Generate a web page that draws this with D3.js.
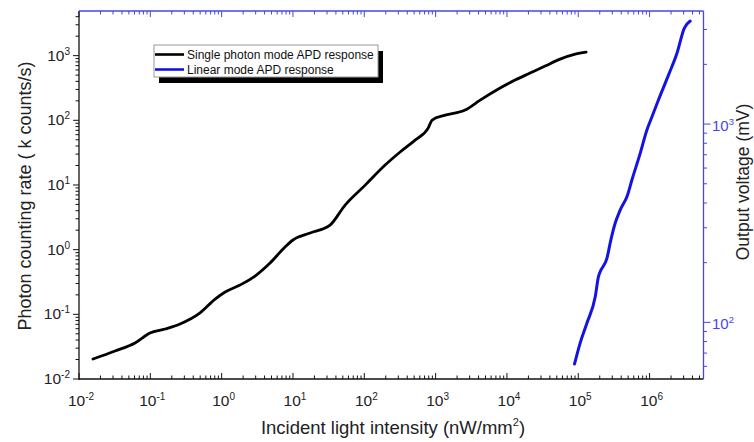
<!DOCTYPE html>
<html><head><meta charset="utf-8">
<script src="https://cdn.jsdelivr.net/npm/d3@7/dist/d3.min.js"></script>
<style>body{margin:0;background:#fff} text{font-family:"Liberation Sans",Arial,sans-serif}</style>
</head><body><svg id="c" width="754" height="442"></svg>
<script>
// Single photon mode APD response (intensity nW/mm^2 -> k counts/s)
const spIntensity = [0.0157,0.032,0.061,0.099,0.161,0.261,0.498,0.81,1.12,1.81,2.94,4.77,7.74,10.0,17.4,33.1,53.8,103,196,318,516,786,894,1360,2590,4210,8030,13000,21100,34300,55700,90600,129000];
const spRate = [0.0204,0.0271,0.036,0.0514,0.0593,0.0708,0.105,0.172,0.221,0.284,0.391,0.621,1.10,1.41,1.81,2.40,4.89,9.95,20.3,32.3,49.4,75.7,101,120,144,205,315,419,537,689,883,1055,1132];
// Linear mode APD response (intensity nW/mm^2 -> mV)
const linIntensity = [88500,106000,132000,173000,192000,203000,252000,286000,329000,387000,490000,565000,738000,917000,1080000,1330000,1840000,2420000,3060000,3710000];
const linVoltage = [61.6,78.4,98.9,134.6,170,180,210,260,316,368,438,522,711,933,1088,1322,1766,2274,3040,3306];
// Tick labels (exponents of 10)
const xTickExps = [-2,-1,0,1,2,3,4,5,6];
const yLeftTickExps = [-2,-1,0,1,2,3];
const yRightTickExps = [2,3];
const legendLabels = ["Single photon mode APD response","Linear mode APD response"];
const axisTitles = {x:"Incident light intensity (nW/mm", xSup:"2", xEnd:")", yLeft:"Photon counting rate ( k counts/s)", yRight:"Output voltage (mV)"};

const svg = d3.select("#c");
const L=79, R=703.5, T=11, B=379;
const blueAxis = "#4646e6", blueLine = "#1414e0";

const x = d3.scaleLog().domain([0.01, 5.7e6]).range([L, R]);
const yL = d3.scaleLog().domain([0.01, 4898]).range([B, T]);
const yR = d3.scaleLog().domain([51.8, 3717]).range([B, T]);

const isMajor = v => Math.abs(Math.log10(v) - Math.round(Math.log10(v))) < 1e-9;

// Bottom axis (ticks inward)
const gx = svg.append("g");
x.ticks().forEach(v => {
  const p = x(v); if (p < L-0.5 || p > R+0.5) return;
  const len = isMajor(v) ? 6 : 3.5;
  gx.append("line").attr("x1",p).attr("x2",p).attr("y1",B).attr("y2",B-len).attr("stroke","#111").attr("stroke-width",1);
});
// top axis (blue, ticks inward)
const gt = svg.append("g");
x.ticks().forEach(v => {
  const p = x(v); if (p < L-0.5 || p > R+0.5) return;
  const len = isMajor(v) ? 6 : 3.5;
  gt.append("line").attr("x1",p).attr("x2",p).attr("y1",T).attr("y2",T+len).attr("stroke",blueAxis).attr("stroke-width",1);
});
xTickExps.forEach(e => {
  const t = gx.append("text").attr("x", x(Math.pow(10,e))+2).attr("y", 406).attr("text-anchor","middle").attr("font-size",15.5).attr("fill","#222");
  t.append("tspan").text("10");
  t.append("tspan").attr("dy",-6).attr("font-size",10).text(String(e));
});

// Left axis (ticks outward)
const gl = svg.append("g");
yL.ticks().forEach(v => {
  const p = yL(v); if (p < T-0.5 || p > B+0.5) return;
  const len = isMajor(v) ? 6 : 3.5;
  gl.append("line").attr("x1",L).attr("x2",L-len).attr("y1",p).attr("y2",p).attr("stroke","#111").attr("stroke-width",1);
});
yLeftTickExps.forEach(e => {
  const t = gl.append("text").attr("x", 70).attr("y", yL(Math.pow(10,e))+5).attr("text-anchor","end").attr("font-size",15.5).attr("fill","#222");
  t.append("tspan").text("10");
  t.append("tspan").attr("dy",-6).attr("font-size",10).text(String(e));
});

// Right axis (blue, ticks outward)
const gr = svg.append("g");
yR.ticks().forEach(v => {
  const p = yR(v); if (p < T-0.5 || p > B+0.5) return;
  const len = isMajor(v) ? 7 : 3.5;
  gr.append("line").attr("x1",R).attr("x2",R+len).attr("y1",p).attr("y2",p).attr("stroke",blueAxis).attr("stroke-width",1);
});
yRightTickExps.forEach(e => {
  const t = gr.append("text").attr("x", 712).attr("y", yR(Math.pow(10,e))+7).attr("text-anchor","start").attr("font-size",15).attr("fill",blueAxis);
  t.append("tspan").text("10");
  t.append("tspan").attr("dy",-6).attr("font-size",9.5).text(String(e));
});

// frame lines
svg.append("line").attr("x1",L).attr("x2",L).attr("y1",T).attr("y2",B+1).attr("stroke","#111").attr("stroke-width",1.3);
svg.append("line").attr("x1",L).attr("x2",R).attr("y1",B).attr("y2",B).attr("stroke","#111").attr("stroke-width",1.3);
svg.append("line").attr("x1",L).attr("x2",R).attr("y1",T).attr("y2",T).attr("stroke",blueAxis).attr("stroke-width",1.3);
svg.append("line").attr("x1",R).attr("x2",R).attr("y1",T).attr("y2",B).attr("stroke",blueAxis).attr("stroke-width",1.3);

// curves
const spLine = d3.line().curve(d3.curveMonotoneX).x(d=>x(d[0])).y(d=>yL(d[1]));
svg.append("path").datum(d3.zip(spIntensity, spRate)).attr("d", spLine).attr("fill","none").attr("stroke","#000").attr("stroke-width",2.8).attr("stroke-linejoin","round").attr("stroke-linecap","round");
const linLine = d3.line().curve(d3.curveMonotoneX).x(d=>x(d[0])).y(d=>yR(d[1]));
svg.append("path").datum(d3.zip(linIntensity, linVoltage)).attr("d", linLine).attr("fill","none").attr("stroke",blueLine).attr("stroke-width",3).attr("stroke-linejoin","round").attr("stroke-linecap","round");

// axis titles
const xt = svg.append("text").attr("x",393).attr("y",434).attr("text-anchor","middle").attr("font-size",18.5).attr("fill","#222");
xt.append("tspan").text(axisTitles.x);
xt.append("tspan").attr("dy",-8).attr("font-size",11).text(axisTitles.xSup);
xt.append("tspan").attr("dy",8).text(axisTitles.xEnd);
svg.append("text").attr("transform","translate(31,196) rotate(-90)").attr("text-anchor","middle").attr("font-size",18).attr("fill","#222").text(axisTitles.yLeft);
svg.append("text").attr("transform","translate(749,182) rotate(-90)").attr("text-anchor","middle").attr("font-size",17.5).attr("fill","#222").text(axisTitles.yRight);

// legend
const lg = svg.append("g");
lg.append("rect").attr("x",159).attr("y",51).attr("width",224).attr("height",32).attr("fill","#000");
lg.append("rect").attr("x",154).attr("y",45).attr("width",224).attr("height",32).attr("fill","#fff").attr("stroke","#999").attr("stroke-width",1);
const legColors = ["#000", blueLine];
legendLabels.forEach((lab,i) => {
  const yy = 54.5 + i*15;
  lg.append("line").attr("x1",155).attr("x2",184).attr("y1",yy).attr("y2",yy).attr("stroke",legColors[i]).attr("stroke-width",2.6);
  lg.append("text").attr("x",187).attr("y",yy+4).attr("font-size",12).attr("fill","#111").text(lab);
});
</script></body></html>
